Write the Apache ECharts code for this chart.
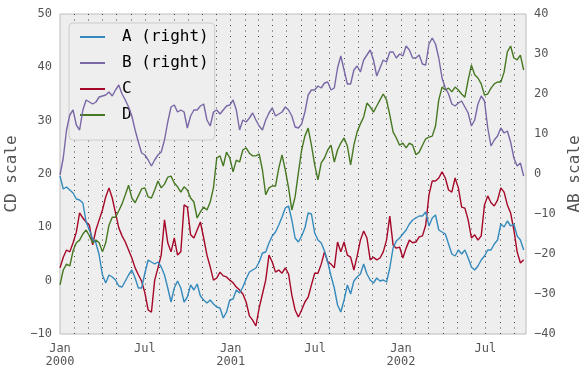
<!DOCTYPE html>
<html><head><meta charset="utf-8">
<script src="https://cdn.jsdelivr.net/npm/echarts@6/dist/echarts.min.js"></script>
<style>html,body{margin:0;padding:0;background:#fff}#c{width:585px;height:376px}</style>
</head><body><div id="c"></div>
<script>
// weekly samples starting 2000-01-01
const startDate = '2000-01-01';
const stepDays = 7;
const endDate = '2002-09-26';
const seriesNames = ['A (right)', 'B (right)', 'C', 'D'];
const xMajorLabels = ['2000-01','2000-07','2001-01','2001-07','2002-01','2002-07'];
const cdTicks = [-10, 0, 10, 20, 30, 40, 50];
const abTicks = [-40, -30, -20, -10, 0, 10, 20, 30, 40];

const A = [-0.5,-3.75,-3.25,-4.0,-4.75,-6.25,-6.5,-7.25,-12.0,-14.0,-16.25,-17.25,-20.25,-25.25,-27.25,-25.25,-25.75,-26.5,-28.0,-28.25,
-26.75,-25.25,-24.0,-26.0,-28.5,-28.5,-24.75,-21.5,-22.0,-22.5,-22.0,-23.25,-25.25,-28.5,-32.0,-28.5,-26.75,-28.5,-32.0,-30.75,
-27.75,-29.0,-27.5,-30.5,-31.5,-32.25,-31.5,-32.5,-33.25,-33.5,-36.0,-34.5,-31.5,-31.25,-29.0,-29.75,-28.25,-26.25,-24.5,-24.0,
-23.5,-22.0,-19.75,-19.5,-17.25,-15.5,-14.5,-12.75,-10.75,-8.5,-8.0,-11.5,-16.0,-17.0,-15.5,-13.5,-9.75,-10.0,-14.75,-16.5,
-17.25,-19.25,-22.0,-25.5,-28.5,-32.75,-34.5,-31.5,-27.75,-30.0,-26.75,-25.75,-25.0,-22.5,-25.0,-26.5,-27.25,-26.0,-26.75,-26.5,
-27.0,-23.5,-18.5,-16.75,-16.0,-15.0,-14.0,-12.5,-11.5,-11.0,-10.5,-10.5,-9.5,-13.0,-11.0,-10.25,-14.0,-14.5,-15.0,-17.5,
-20.0,-20.5,-19.0,-20.0,-19.0,-21.0,-23.25,-24.0,-23.0,-21.5,-20.5,-19.0,-19.0,-17.5,-16.5,-12.5,-13.25,-11.75,-13.0,-12.5,
-15.5,-16.5,-19.0];
const B = [-0.25,4.0,11.0,14.75,16.0,12.25,11.0,16.0,18.5,18.0,17.5,18.0,19.25,19.5,19.75,20.5,19.5,21.0,22.25,20.0,
18.5,16.75,14.5,11.0,8.0,5.25,4.75,3.5,2.0,3.5,4.75,5.5,8.5,13.0,16.75,17.25,15.5,16.0,15.5,11.5,
14.5,16.0,16.0,17.0,17.5,13.5,12.0,15.5,16.0,15.0,16.0,17.0,17.25,18.5,16.0,11.0,13.5,13.0,14.0,15.25,
13.5,12.0,11.0,13.5,15.25,16.5,14.5,15.0,15.5,16.75,16.0,14.5,11.75,11.5,12.5,15.5,19.75,21.0,21.0,22.0,
21.5,22.75,23.0,21.0,21.5,26.5,29.5,26.0,22.5,22.5,26.0,27.0,25.5,28.5,29.75,31.0,28.5,24.5,26.5,28.5,
28.0,30.5,30.5,29.0,30.0,29.5,32.0,31.0,29.0,29.0,29.75,27.5,27.25,32.5,34.0,32.5,29.0,24.0,21.5,20.0,
17.5,17.0,17.75,18.25,16.75,15.25,12.0,13.5,17.5,19.5,18.25,11.5,7.0,8.5,9.5,11.5,10.25,10.75,8.0,4.0,
2.0,2.75,-0.5];
const C = [2.4,4.4,5.75,5.4,7.1,9.1,12.7,11.75,11.0,10.4,6.7,9.5,11.4,13.25,15.7,17.4,15.5,12.7,9.9,8.4,
7.25,5.75,4.25,2.4,1.1,-0.1,-2.3,-5.5,-5.9,0.1,2.4,4.8,11.4,7.1,5.4,8.0,4.8,5.4,14.2,13.8,
8.6,8.0,9.5,11.0,8.0,4.8,2.6,0.1,0.5,1.6,0.9,0.7,0.1,-0.4,-1.2,-1.75,-2.5,-4.0,-6.6,-7.4,
-8.5,-5.1,-2.5,0.1,4.8,3.5,1.6,2.0,1.4,2.4,1.25,-2.7,-5.5,-6.8,-5.5,-4.0,-3.1,-0.8,1.4,1.4,
3.1,5.4,3.5,3.1,2.4,7.25,5.4,7.25,4.8,4.4,2.0,4.6,7.6,9.3,8.0,3.9,4.4,3.9,4.25,5.4,
7.6,12.1,6.7,6.1,6.3,4.25,6.1,7.6,7.1,7.25,8.2,8.4,10.4,16.1,18.7,18.7,19.25,20.4,19.25,17.0,
16.6,19.25,17.4,13.8,13.6,11.4,8.0,8.6,7.6,8.4,14.2,15.9,14.6,14.0,15.1,17.4,16.6,14.2,12.7,9.5,
5.4,3.3,3.9];
const D = [-0.8,2.0,3.1,2.75,5.6,7.1,7.6,8.75,9.5,8.4,7.1,7.6,7.1,5.4,7.1,10.4,11.9,11.9,13.1,14.4,
16.1,17.9,15.5,14.6,15.9,17.2,17.4,15.7,15.5,17.0,18.7,17.4,18.1,19.4,19.6,18.3,17.6,16.6,17.6,17.0,
15.5,14.75,11.75,12.9,13.8,13.25,14.75,17.4,23.0,23.4,21.5,24.1,23.0,20.4,22.6,22.25,24.5,24.9,23.9,23.4,
23.4,23.75,20.75,16.1,17.4,17.75,17.75,21.1,23.6,20.75,17.4,13.25,15.7,20.2,24.5,27.1,28.6,25.4,21.7,18.9,
22.1,23.0,24.5,25.4,22.25,24.5,25.8,26.75,25.25,21.7,25.4,27.9,29.4,30.7,33.3,32.6,31.6,32.75,33.9,35.0,
33.9,31.1,27.9,26.75,25.4,25.8,24.9,25.8,25.4,23.6,24.1,25.4,26.6,26.9,27.1,29.0,33.9,36.3,35.75,36.1,
35.4,36.3,35.75,35.0,34.4,37.6,40.4,38.6,38.0,36.9,34.8,35.0,36.1,36.9,37.25,37.25,39.1,42.9,44.0,41.75,
41.4,42.3,39.5];

const DAY = 86400000;
function ts(s){ const p = s.split('-').map(Number); return Date.UTC(p[0], p[1]-1, p[2] || 1); }
const t0 = ts(startDate), tEnd = ts(endDate);
const dates = A.map((_, i) => t0 + i * stepDays * DAY);
const pair = arr => arr.map((v, i) => [dates[i], v]);

const monthTicks = [];
for (let y = 2000; y <= 2002; y++) for (let m = 0; m < 12; m++) {
  const t = Date.UTC(y, m, 1); if (t > t0 && t <= tEnd) monthTicks.push(t);
}
const majorTicks = xMajorLabels.map(ts);
const MONTHS = ['Jan','Feb','Mar','Apr','May','Jun','Jul','Aug','Sep','Oct','Nov','Dec'];
const FONT = 'DejaVu Sans Mono';
const minus = v => String(v).replace('-', '\u2212');
const colors = ['#348ABD', '#7A68A6', '#A60628', '#467821'];

const chart = echarts.init(document.getElementById('c'), null, {renderer: 'canvas'});
chart.setOption({
  animation: false,
  backgroundColor: '#ffffff',
  textStyle: {fontFamily: FONT},
  grid: {left: 60, right: 59, top: 14, bottom: 42, show: true, backgroundColor: '#EEEEEE', borderColor: '#BCBCBC', borderWidth: 1, containLabel: false, outerBoundsMode: 'none'},
  legend: {
    orient: 'vertical', left: 69, top: 23, z: 3,
    data: seriesNames,
    itemWidth: 25, itemHeight: 14, itemGap: 10,
    padding: [6, 6, 17, 11],
    backgroundColor: '#EEEEEE', borderColor: '#CCCCCC', borderWidth: 1, borderRadius: 4,
    icon: 'path://M0,6 L25,6 L25,8 L0,8 Z',
    textStyle: {fontFamily: FONT, fontSize: 16, color: '#000', padding: [0, 0, 0, 12]}
  },
  xAxis: {
    type: 'value', min: t0, max: tEnd, boundaryGap: [0, 0],
    axisLine: {show: false},
    axisTick: {show: false},
    splitLine: {show: false},
    axisLabel: {
      customValues: majorTicks, showMinLabel: true, showMaxLabel: true,
      color: '#555', fontFamily: FONT, fontSize: 12, lineHeight: 13, margin: 8,
      formatter: v => { const d = new Date(v); const m = d.getUTCMonth(); return m === 0 ? MONTHS[m] + '\n' + d.getUTCFullYear() : MONTHS[m]; }
    }
  },
  yAxis: [
    {type: 'value', min: cdTicks[0], max: cdTicks[cdTicks.length-1], interval: 10, position: 'left',
     name: 'CD scale', nameLocation: 'middle', nameGap: 32, nameRotate: 90,
     nameTextStyle: {fontFamily: FONT, fontSize: 16, color: '#555'},
     axisLine: {show: false}, axisTick: {show: false}, splitLine: {show: false},
     axisLabel: {color: '#555', fontFamily: FONT, fontSize: 12, margin: 8, formatter: minus}},
    {type: 'value', min: abTicks[0], max: abTicks[abTicks.length-1], interval: 10, position: 'right',
     name: 'AB scale', nameLocation: 'middle', nameGap: 40, nameRotate: 90,
     nameTextStyle: {fontFamily: FONT, fontSize: 16, color: '#555'},
     axisLine: {show: false}, axisTick: {show: false}, splitLine: {show: false},
     axisLabel: {color: '#555', fontFamily: FONT, fontSize: 12, margin: 8, formatter: minus}}
  ],
  series: [
    {name: seriesNames[0], type: 'line', yAxisIndex: 1, data: pair(A), showSymbol: false, z: 4, lineStyle: {width: 1.4, color: colors[0]}, itemStyle: {color: colors[0]}},
    {name: seriesNames[1], type: 'line', yAxisIndex: 1, data: pair(B), showSymbol: false, z: 4, lineStyle: {width: 1.4, color: colors[1]}, itemStyle: {color: colors[1]}},
    {name: seriesNames[2], type: 'line', yAxisIndex: 0, data: pair(C), showSymbol: false, z: 2, lineStyle: {width: 1.4, color: colors[2]}, itemStyle: {color: colors[2]},
     markLine: {silent: true, symbol: 'none', z: 1, animation: false, label: {show: false},
       lineStyle: {color: '#444', type: [1, 4.5], width: 1},
       emphasis: {disabled: true},
       data: monthTicks.map(t => ({xAxis: t}))}},
    {name: seriesNames[3], type: 'line', yAxisIndex: 0, data: pair(D), showSymbol: false, z: 2, lineStyle: {width: 1.4, color: colors[3]}, itemStyle: {color: colors[3]}}
  ]
});
</script></body></html>
